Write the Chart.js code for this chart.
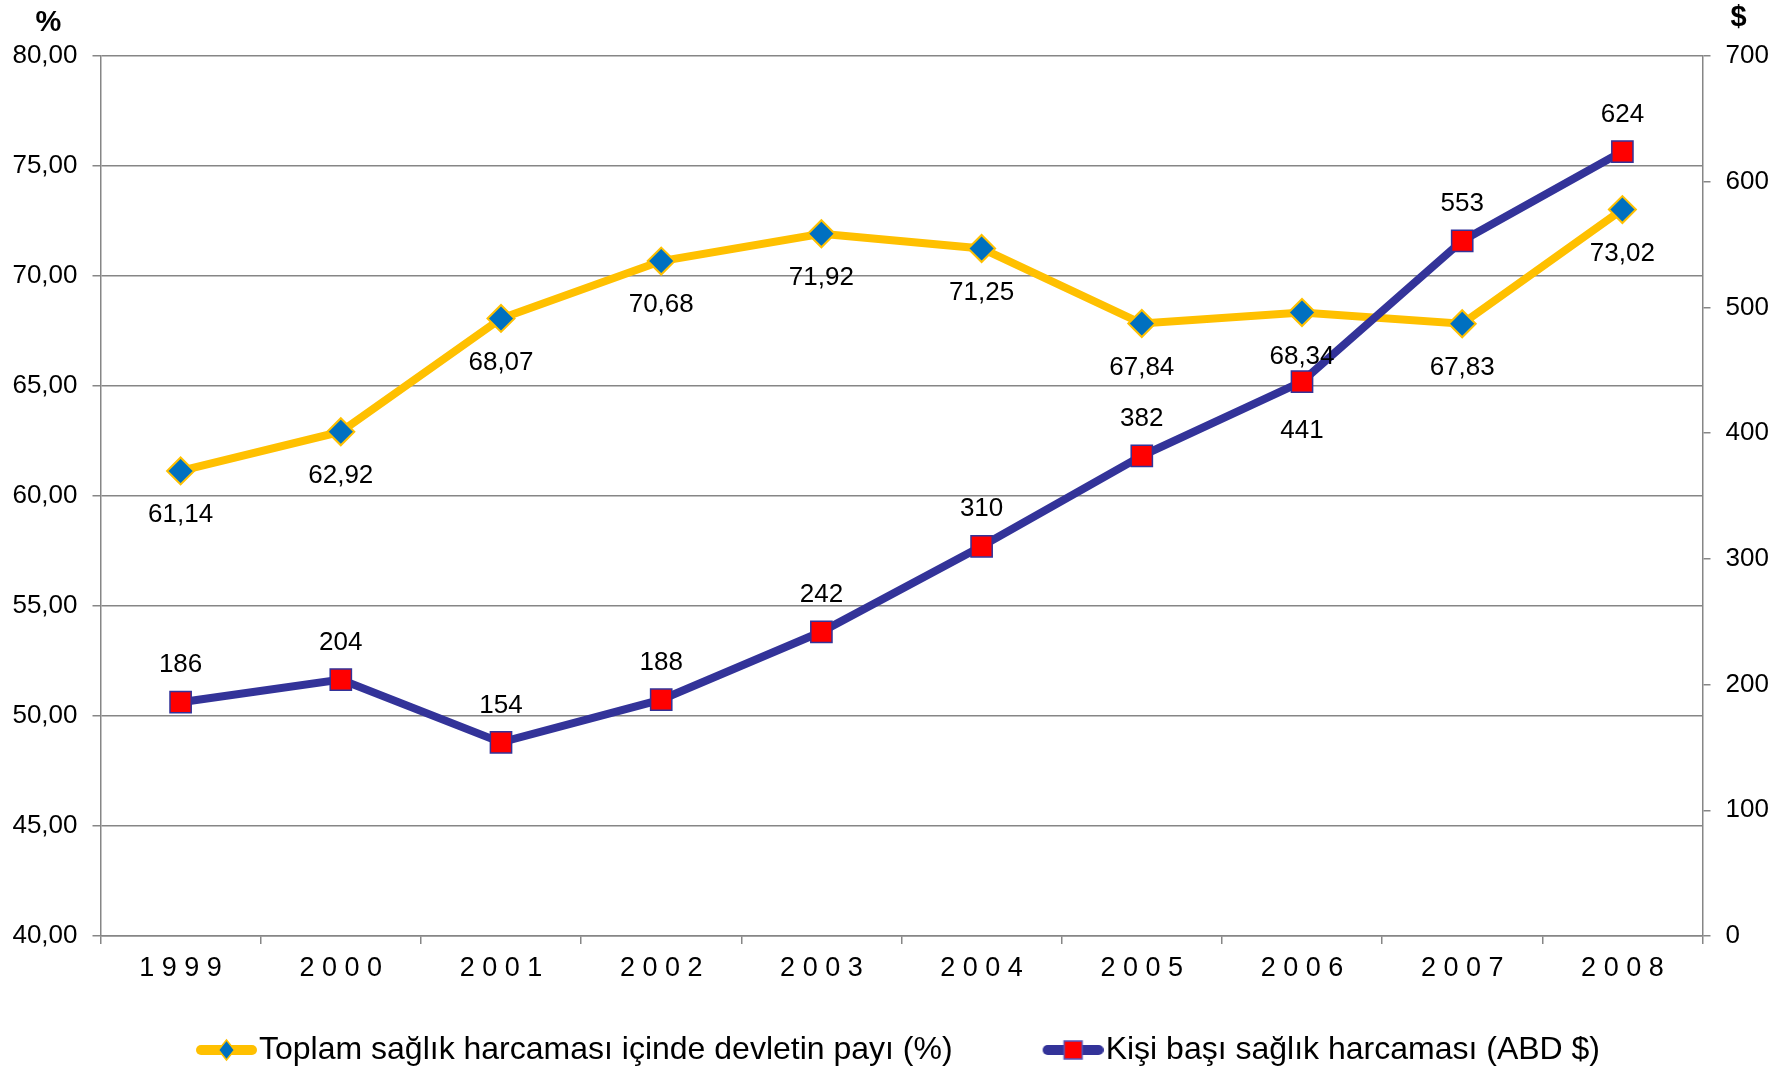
<!DOCTYPE html>
<html>
<head>
<meta charset="utf-8">
<title>Sağlık harcamaları 1999-2008</title>
<script src="https://cdn.jsdelivr.net/npm/chart.js@4.4.1/dist/chart.umd.min.js"></script>
<style>
html, body { margin: 0; padding: 0; background: #fff; }
</style>
</head>
<body>
<canvas id="chart" width="1791" height="1071"></canvas>
<script>
// values
const years = ['1999', '2000', '2001', '2002', '2003', '2004', '2005', '2006', '2007', '2008'];
const devletPayi = [61.14, 62.92, 68.07, 70.68, 71.92, 71.25, 67.84, 68.34, 67.83, 73.02];
const kisiBasi = [186, 204, 154, 188, 242, 310, 382, 441, 553, 624];

const payLabel = 'Toplam sağlık harcaması içinde devletin payı (%)';
const kisiLabel = 'Kişi başı sağlık harcaması (ABD $)';

const leftMin = 40, leftMax = 80, leftStep = 5;
const rightMin = 0, rightMax = 700, rightStep = 100;

const YELLOW = '#FFC000';
const NAVY = '#333399';
const GRID = '#868686';
const FONT = '"Liberation Sans", Arial, sans-serif';

const trNum = v => v.toFixed(2).replace('.', ',');

// legend icon: thick line with the marker in the middle
function legendIcon(lineColor, marker) {
    let c = document.createElement('canvas');
    c.width = 108;
    c.height = 28;
    let g = c.getContext('2d');
    g.strokeStyle = lineColor;
    g.lineWidth = 10;
    g.lineCap = 'round';
    g.beginPath();
    g.moveTo(52, 14);
    g.lineTo(103, 14);
    g.stroke();
    marker(g, 77.5, 14);
    return c;
}
const payIcon = legendIcon(YELLOW, (g, x, y) => {
    g.beginPath();
    g.moveTo(x - 8, y);
    g.lineTo(x, y - 10);
    g.lineTo(x + 8, y);
    g.lineTo(x, y + 10);
    g.closePath();
    g.fillStyle = '#0070C0';
    g.fill();
    g.strokeStyle = YELLOW;
    g.lineWidth = 1.5;
    g.stroke();
});
const kisiIcon = legendIcon(NAVY, (g, x, y) => {
    g.fillStyle = '#FF0000';
    g.fillRect(x - 9, y - 9, 18, 18);
    g.strokeStyle = '#5555bb';
    g.lineWidth = 1.5;
    g.strokeRect(x - 9, y - 9, 18, 18);
});

// value labels next to each point
const valueLabels = {
    id: 'valueLabels',
    afterDatasetsDraw(chart) {
        let ctx = chart.ctx;
        ctx.save();
        ctx.font = `26px ${FONT}`;
        ctx.fillStyle = '#000';
        ctx.textAlign = 'center';
        ctx.textBaseline = 'middle';
        chart.data.datasets.forEach((ds, i) => {
            let meta = chart.getDatasetMeta(i);
            meta.data.forEach((pt, j) => {
                ctx.fillText(ds.fmt(ds.data[j]), pt.x, pt.y + ds.labelDy(j));
            });
        });
        ctx.restore();
    }
};

// unit marks above the two axes
const unitMarks = {
    id: 'unitMarks',
    afterDraw(chart) {
        let ctx = chart.ctx;
        ctx.save();
        ctx.font = `bold 29px ${FONT}`;
        ctx.fillStyle = '#000';
        ctx.textAlign = 'center';
        ctx.textBaseline = 'alphabetic';
        ctx.fillText('%', 48.5, 31);
        ctx.fillText('$', 1738.5, 26);
        ctx.restore();
    }
};

// the right padding only shifts the legend; let the right tick labels use it
const rightAxisRoom = {
    id: 'rightAxisRoom',
    afterLayout(chart) {
        chart.scales.y1.right = chart.width;
    }
};

Chart.defaults.font.family = FONT;
Chart.defaults.color = '#000';

const chart = new Chart(document.getElementById('chart'), {
    type: 'line',
    data: {
        labels: years,
        datasets: [{
            label: payLabel,
            data: devletPayi,
            yAxisID: 'y',
            order: 1,
            borderColor: YELLOW,
            borderWidth: 8,
            tension: 0,
            pointStyle: 'rectRot',
            pointRadius: 13.5,
            pointBackgroundColor: '#0070C0',
            pointBorderColor: YELLOW,
            pointBorderWidth: 2,
            fmt: trNum,
            labelDy: () => 44,
        }, {
            label: kisiLabel,
            data: kisiBasi,
            yAxisID: 'y1',
            order: 0,
            borderColor: NAVY,
            borderWidth: 8,
            tension: 0,
            pointStyle: 'rect',
            pointRadius: 15,
            pointBackgroundColor: '#FF0000',
            pointBorderColor: NAVY,
            pointBorderWidth: 1.5,
            fmt: v => String(v),
            labelDy: j => (j === 7 ? 49 : -37),
        }]
    },
    options: {
        responsive: false,
        animation: false,
        events: [],
        layout: { padding: { top: 56, bottom: 2, left: 0, right: 28 } },
        plugins: {
            tooltip: { enabled: false },
            legend: {
                position: 'bottom',
                maxHeight: 92,
                labels: {
                    usePointStyle: true,
                    pointStyleWidth: 80,
                    padding: 57,
                    color: '#000',
                    font: { size: 32 },
                    generateLabels: () => [
                        { text: payLabel, pointStyle: payIcon, fillStyle: 'transparent', strokeStyle: 'transparent', lineWidth: 0, datasetIndex: 0 },
                        { text: kisiLabel, pointStyle: kisiIcon, fillStyle: 'transparent', strokeStyle: 'transparent', lineWidth: 0, datasetIndex: 1 },
                    ]
                }
            }
        },
        scales: {
            x: {
                offset: true,
                grid: { offset: true, drawOnChartArea: false, tickLength: 8, color: GRID, lineWidth: 1.5 },
                border: { color: GRID, width: 1.5 },
                ticks: {
                    font: { size: 27 },
                    color: '#000',
                    padding: 8.5,
                    maxRotation: 0,
                    autoSkip: false,
                    callback: (v, i) => years[i].split('').join(' ')
                },
                afterFit: s => { s.height = 41; }
            },
            y: {
                position: 'left',
                min: leftMin,
                max: leftMax,
                ticks: { stepSize: leftStep, padding: 15, font: { size: 26 }, color: '#000', callback: v => trNum(v) },
                grid: { color: GRID, lineWidth: 1.5, tickLength: 8 },
                border: { color: GRID, width: 1.5 },
                afterFit: s => { s.width = 100.5; }
            },
            y1: {
                position: 'right',
                min: rightMin,
                max: rightMax,
                ticks: { stepSize: rightStep, padding: 15, font: { size: 26 }, color: '#000' },
                grid: { drawOnChartArea: false, color: GRID, lineWidth: 1.5, tickLength: 8 },
                border: { color: GRID, width: 1.5 },
                afterFit: s => { s.width = 60.5; }
            }
        }
    },
    plugins: [valueLabels, unitMarks, rightAxisRoom]
});
</script>
</body>
</html>
